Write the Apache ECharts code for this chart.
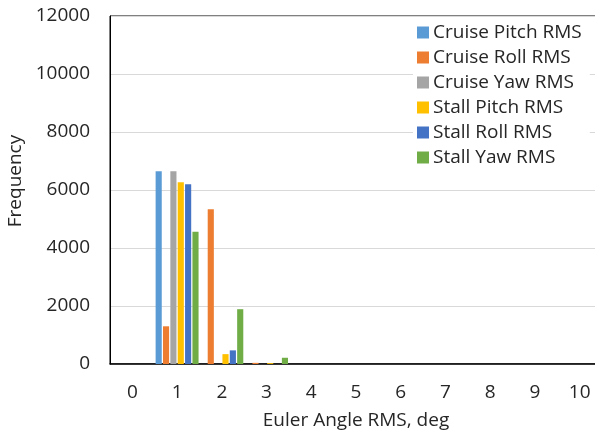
<!DOCTYPE html>
<html>
<head>
<meta charset="utf-8">
<script src="https://cdn.jsdelivr.net/npm/echarts@6/dist/echarts.min.js"></script>
<style>
  html, body { margin: 0; padding: 0; background: #fff; }
  #chart { width: 595px; height: 432px; }
</style>
</head>
<body>
<div id="chart"></div>
<script>
// Histogram bins (Euler angle RMS, deg)
const categories = ['0', '1', '2', '3', '4', '5', '6', '7', '8', '9', '10'];

// Frequency per bin
const cruisePitch = [0, 6650, 0, 0, 0, 0, 0, 0, 0, 0, 0];
const cruiseRoll  = [0, 1300, 5340, 40, 0, 0, 0, 0, 0, 0, 0];
const cruiseYaw   = [0, 6650, 0, 0, 0, 0, 0, 0, 0, 0, 0];
const stallPitch  = [0, 6270, 340, 30, 0, 0, 0, 0, 0, 0, 0];
const stallRoll   = [0, 6200, 470, 0, 0, 0, 0, 0, 0, 0, 0];
const stallYaw    = [0, 4560, 1890, 215, 0, 0, 0, 0, 0, 0, 0];

const seriesNames = ['Cruise Pitch RMS', 'Cruise Roll RMS', 'Cruise Yaw RMS',
                     'Stall Pitch RMS', 'Stall Roll RMS', 'Stall Yaw RMS'];
const seriesData = [cruisePitch, cruiseRoll, cruiseYaw, stallPitch, stallRoll, stallYaw];
const colors = ['#5B9BD5', '#ED7D31', '#A5A5A5', '#FFC000', '#4472C4', '#70AD47'];

const font = 'Open Sans';
const textColor = '#262626';

const chart = echarts.init(document.getElementById('chart'));

chart.setOption({
    animation: false,
    color: colors,
    textStyle: { fontFamily: font },
    grid: {
        left: 110,
        top: 16,
        right: -7,
        bottom: 68,
        containLabel: false,
        outerBoundsMode: 'none',
        show: true,
        borderColor: '#000',
        borderWidth: 1
    },
    legend: {
        orient: 'vertical',
        left: 413,
        top: 21,
        itemWidth: 12,
        itemHeight: 12,
        itemGap: 6,
        padding: [2, 8, 2, 4],
        backgroundColor: '#fff',
        icon: 'rect',
        textStyle: { fontSize: 19, color: textColor, fontFamily: font, padding: [0, 0, 0, -1] },
        data: seriesNames
    },
    xAxis: {
        type: 'category',
        data: categories,
        name: 'Euler Angle RMS, deg',
        nameLocation: 'middle',
        nameGap: 47,
        nameTextStyle: { fontSize: 19, color: textColor },
        axisTick: { show: false },
        axisLine: { lineStyle: { color: '#000', width: 1.5 } },
        axisLabel: { fontSize: 19, color: textColor, margin: 19 }
    },
    yAxis: {
        type: 'value',
        min: 0,
        max: 12000,
        interval: 2000,
        name: 'Frequency',
        nameLocation: 'middle',
        nameGap: 80,
        nameTextStyle: { fontSize: 19, color: textColor, padding: [0, 0, 0, 18] },
        axisLine: { show: true, lineStyle: { color: '#000' } },
        axisTick: { show: false },
        axisLabel: { fontSize: 19, color: textColor, margin: 20, formatter: (v) => String(v) },
        splitLine: { lineStyle: { color: '#d9d9d9' } }
    },
    series: seriesNames.map((name, i) => ({
        name: name,
        type: 'bar',
        data: seriesData[i],
        barGap: '20%',
        barCategoryGap: '4%'
    }))
});
</script>
</body>
</html>
